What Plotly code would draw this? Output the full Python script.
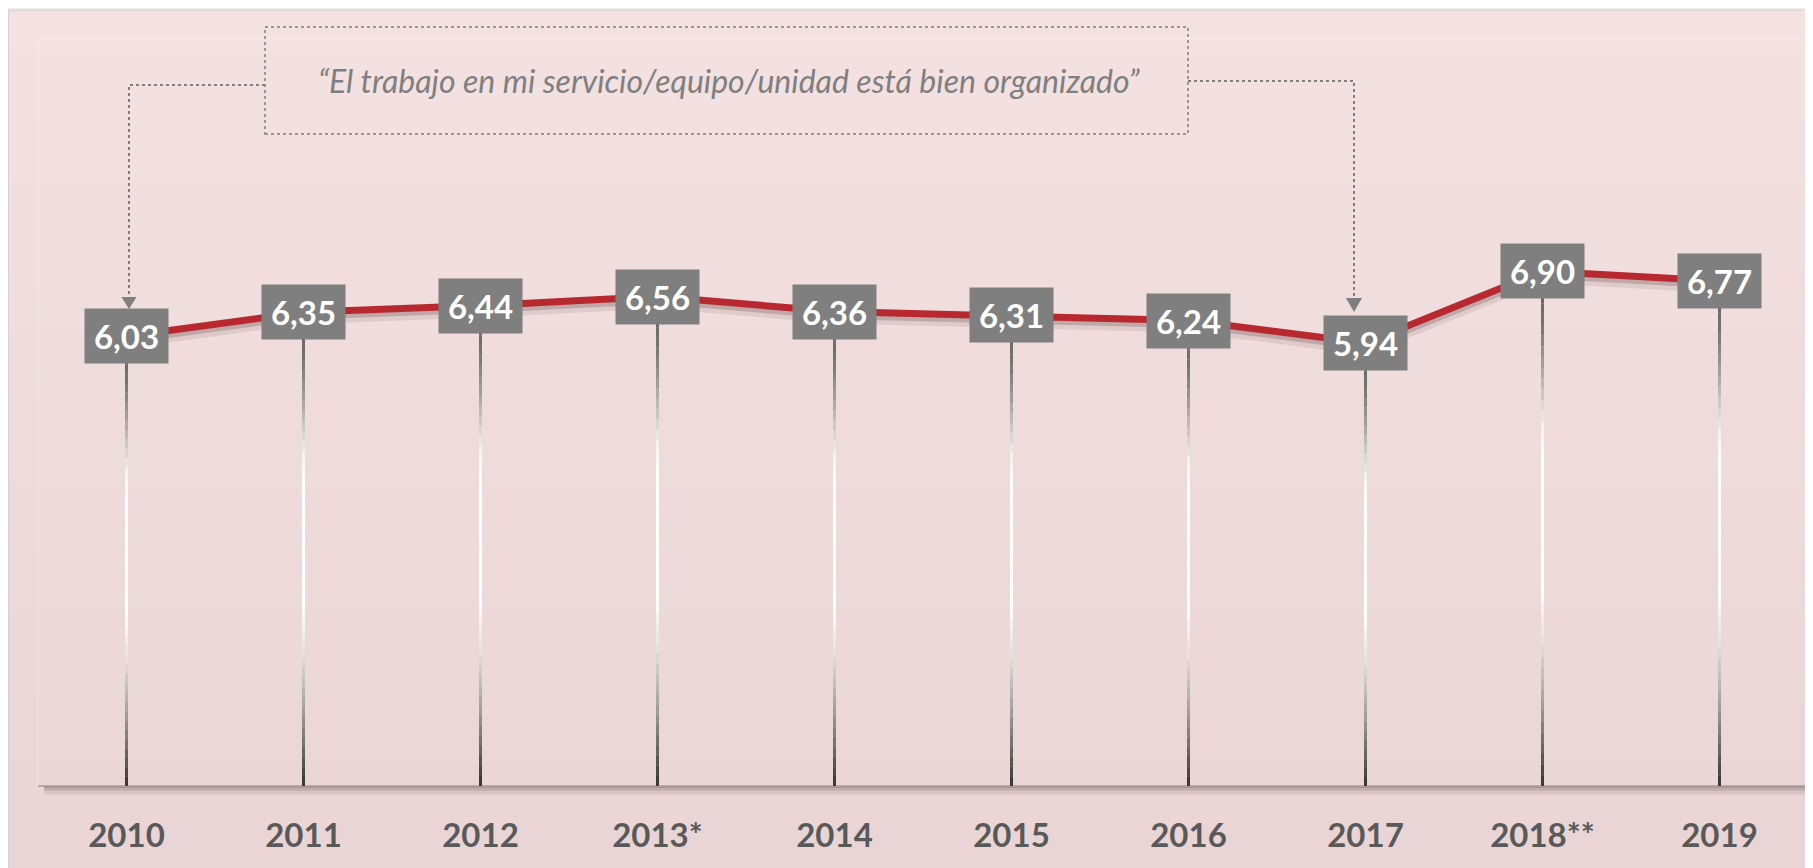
import plotly.graph_objects as go

# ---------------- data ----------------
years = ["2010", "2011", "2012", "2013*", "2014", "2015", "2016", "2017", "2018**", "2019"]
values = [6.03, 6.35, 6.44, 6.56, 6.36, 6.31, 6.24, 5.94, 6.90, 6.77]
title_text = "“El trabajo en mi servicio/equipo/unidad está bien organizado”"

# ---------------- geometry / style ----------------
OFF = 8                      # page body margin
W, H = 1805, 860
ML, MR, MT, MB = 30, 5, 32, 82
PW, PH = W - ML - MR, H - MT - MB
FONT = "Lato"
RED = "#B8292F"
GRAY = "#7F7F7F"


def pxx(px):
    return (px - OFF - ML) / PW


def pxy(py):
    return (H - MB - (py - OFF)) / PH


def hexrgb(h):
    h = h.lstrip("#")
    return tuple(int(h[i:i + 2], 16) for i in (0, 2, 4))


def lerp_color(stops, t):
    for (t0, c0), (t1, c1) in zip(stops[:-1], stops[1:]):
        if t0 <= t <= t1:
            f = 0 if t1 == t0 else (t - t0) / (t1 - t0)
            a, b = hexrgb(c0), hexrgb(c1)
            return "rgb(%d,%d,%d)" % tuple(round(a[k] + (b[k] - a[k]) * f) for k in range(3))
    return stops[-1][1]


x_idx = list(range(len(years)))
shapes = []

# background frame with vertical gradient
bg_stops = [(0.0, "#F4E1E1"), (1.0, "#E9D5D5")]
NB = 40
top, bot = 10, 870
for k in range(NB):
    y0 = top + (bot - top) * k / NB
    y1 = top + (bot - top) * (k + 1) / NB + 1
    shapes.append(dict(type="rect", xref="paper", yref="paper", layer="below",
                       x0=pxx(8), x1=pxx(1820), y0=pxy(y1), y1=pxy(y0),
                       fillcolor=lerp_color(bg_stops, (k + 0.5) / NB), line=dict(width=0)))
# frame border
shapes.append(dict(type="rect", xref="paper", yref="paper", layer="below",
                   x0=pxx(8.5), x1=pxx(1820), y0=pxy(870), y1=pxy(10),
                   fillcolor="rgba(0,0,0,0)", line=dict(color="#D2D2D2", width=1)))

# plot card: faint highlight top/left, shadowed bottom/right
shapes.append(dict(type="path", xref="paper", yref="paper", layer="below",
                   path="M %f %f L %f %f L %f %f" % (pxx(38), pxy(786), pxx(38), pxy(38), pxx(1809), pxy(38)),
                   line=dict(color="rgba(255,255,255,0.35)", width=1)))
for k, a in enumerate([0.30, 0.22, 0.15, 0.10, 0.06, 0.03]):
    shapes.append(dict(type="line", xref="paper", yref="paper", layer="below",
                       x0=pxx(44), x1=pxx(1810 + k), y0=pxy(787 + 1.5 * k), y1=pxy(787 + 1.5 * k),
                       line=dict(color="rgba(70,40,40,%.2f)" % a, width=2)))
    shapes.append(dict(type="line", xref="paper", yref="paper", layer="below",
                       x0=pxx(1810 + 1.5 * k), x1=pxx(1810 + 1.5 * k), y0=pxy(44), y1=pxy(787 + k),
                       line=dict(color="rgba(70,40,40,%.2f)" % a, width=2)))
shapes.append(dict(type="line", xref="paper", yref="paper", layer="below",
                   x0=pxx(38), x1=pxx(1809), y0=pxy(786), y1=pxy(786),
                   line=dict(color="#A89898", width=1.5)))
shapes.append(dict(type="line", xref="paper", yref="paper", layer="below",
                   x0=pxx(1809), x1=pxx(1809), y0=pxy(38), y1=pxy(786),
                   line=dict(color="#B8A8A8", width=1.5)))

# drop lines with gradient
drop_stops = [(0.0, "#5c5c5c"), (0.10, "#737373"), (0.18, "#9f9f9f"), (0.30, "#f2f2f2"),
              (0.36, "#ffffff"), (0.62, "#ffffff"), (0.72, "#e2e2e2"), (0.85, "#999999"),
              (1.0, "#333333")]
NS = 48
for i, v in zip(x_idx, values):
    for k in range(NS):
        ya = v * (1 - k / NS)
        yb = v * (1 - (k + 1) / NS)
        shapes.append(dict(type="line", xref="x", yref="y", layer="below",
                           x0=i, x1=i, y0=ya, y1=yb - 0.002,
                           line=dict(color=lerp_color(drop_stops, (k + 0.5) / NS), width=3)))

# callout box and dotted connectors
shapes.append(dict(type="rect", xref="paper", yref="paper",
                   x0=pxx(265), x1=pxx(1188), y0=pxy(134), y1=pxy(27),
                   line=dict(color=GRAY, width=1.5, dash="dot"), fillcolor="rgba(0,0,0,0)"))
shapes.append(dict(type="path", xref="paper", yref="paper",
                   path="M %f %f L %f %f L %f %f" % (pxx(265), pxy(85), pxx(129), pxy(85), pxx(129), pxy(298)),
                   line=dict(color=GRAY, width=2, dash="dot")))
shapes.append(dict(type="path", xref="paper", yref="paper",
                   path="M %f %f L %f %f L %f %f Z" % (pxx(121.5), pxy(297), pxx(136.5), pxy(297), pxx(129), pxy(309)),
                   line=dict(width=0), fillcolor=GRAY))
shapes.append(dict(type="path", xref="paper", yref="paper",
                   path="M %f %f L %f %f L %f %f" % (pxx(1188), pxy(81), pxx(1354), pxy(81), pxx(1354), pxy(299)),
                   line=dict(color=GRAY, width=2, dash="dot")))
shapes.append(dict(type="path", xref="paper", yref="paper",
                   path="M %f %f L %f %f L %f %f Z" % (pxx(1346), pxy(298), pxx(1362), pxy(298), pxx(1354), pxy(312)),
                   line=dict(width=0), fillcolor=GRAY))

fig = go.Figure()

# line shadow
unit_px = PH / 10.0
for off, wdt, a in [(7, 10, 0.10), (4, 7, 0.22)]:
    fig.add_trace(go.Scatter(x=x_idx, y=[v - off / unit_px for v in values], mode="lines",
                             line=dict(color="rgba(80,45,45,%.2f)" % a, width=wdt),
                             hoverinfo="skip", showlegend=False))
# main line
fig.add_trace(go.Scatter(x=x_idx, y=values, mode="lines", line=dict(color=RED, width=7),
                         showlegend=False))

annotations = []
for i, v in zip(x_idx, values):
    annotations.append(dict(x=i, y=v, xref="x", yref="y", showarrow=False,
                            text="<b>%s</b>" % ("%.2f" % v).replace(".", ","),
                            font=dict(family=FONT, size=33, color="white"),
                            bgcolor=GRAY, width=83, height=54, borderpad=0,
                            xanchor="center", yanchor="middle", valign="middle"))
annotations.append(dict(x=pxx(729), y=pxy(80), xref="paper", yref="paper", showarrow=False,
                        text="<i>%s</i>" % title_text,
                        font=dict(family=FONT, size=32, color=GRAY),
                        xanchor="center", yanchor="middle"))

fig.update_layout(
    width=W, height=H,
    margin=dict(l=ML, r=MR, t=MT, b=MB),
    paper_bgcolor="#EEEEEE",
    plot_bgcolor="rgba(0,0,0,0)",
    shapes=shapes,
    annotations=annotations,
    showlegend=False,
    xaxis=dict(range=[-0.5, len(years) - 0.5], tickvals=x_idx,
               ticktext=["<b>%s</b>" % y for y in years],
               tickfont=dict(family=FONT, size=33, color="#595959"),
               showgrid=False, zeroline=False, showline=False, ticks="",
               ticklabelstandoff=27, fixedrange=True),
    yaxis=dict(range=[0, 10], visible=False, showgrid=False, zeroline=False, fixedrange=True),
)

fig.write_html("out.html", config={"displayModeBar": False})
